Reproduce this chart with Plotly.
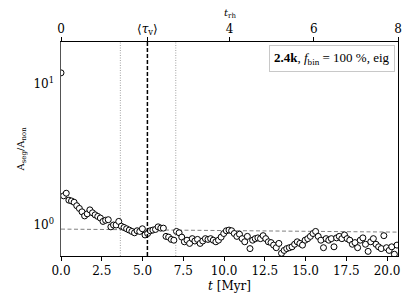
import plotly.graph_objects as go

# ---- data ----
SNAP_DT = 0.161  # Myr between snapshots
ratio = [
    12.0, 1.61, 1.68, 1.50, 1.48, 1.45, 1.37, 1.31, 1.24, 1.16, 1.20, 1.28, 1.22, 1.18, 1.15, 1.12,
    1.06, 1.08, 1.09, 0.97, 1.00, 1.00, 1.06, 0.98, 0.96, 0.94, 0.92, 0.90, 0.88, 0.91, 0.90, 0.94,
    0.85, 0.87, 0.91, 0.92, 0.93, 0.97, 0.95, 0.95, 0.83, 0.82, 0.79, 0.78, 0.90, 0.88, 0.82, 0.76,
    0.78, 0.74, 0.80, 0.77, 0.79, 0.74, 0.77, 0.80, 0.79, 0.80, 0.78, 0.76, 0.78, 0.82,
    0.87, 0.91, 0.92, 0.91, 0.87, 0.83, 0.86, 0.80, 0.76, 0.83, 0.68, 0.78, 0.80, 0.81, 0.80, 0.84,
    0.80, 0.76, 0.75, 0.72, 0.69, 0.74, 0.63, 0.66, 0.68, 0.69, 0.70, 0.73, 0.76, 0.74, 0.72, 0.78,
    0.80, 0.83, 0.87, 0.90,
    0.83, 0.78, 0.69, 0.80, 0.78, 0.80, 0.70, 0.81, 0.83, 0.80, 0.85, 0.80, 0.78, 0.73, 0.75, 0.69,
    0.78, 0.81, 0.73, 0.65, 0.76, 0.80, 0.73, 0.70, 0.68, 0.84, 0.69, 0.66, 0.70, 0.62, 0.72,
]
times = [i * SNAP_DT for i in range(len(ratio))]

tau_v = 5.3            # <tau_v> [Myr]
tau_v_lo = 3.64        # dotted bounds
tau_v_hi = 7.04
mean_line_t = [0.0, 20.67]
mean_line_v = [0.935, 0.89]

T_MAX = 20.67          # Myr, right edge
TRH_MAX = 8.0          # t_rh at right edge
x_ticks = [0.0, 2.5, 5.0, 7.5, 10.0, 12.5, 15.0, 17.5, 20.0]
top_ticks = [0, 4, 6, 8]
top_labels = ["0", "4", "6", "8"]

FONT = "DejaVu Serif"

fig = go.Figure()

fig.add_trace(go.Scatter(
    x=mean_line_t, y=mean_line_v, mode="lines",
    line=dict(color="#808080", width=1, dash="4px,2.5px"),
    showlegend=False, hoverinfo="skip"))

fig.add_trace(go.Scatter(
    x=times, y=ratio, mode="markers", cliponaxis=True,
    marker=dict(symbol="circle", size=6, color="white",
                line=dict(color="black", width=1)),
    showlegend=False))

# invisible helper so the top (t_rh) axis is drawn
fig.add_trace(go.Scatter(
    x=[0, TRH_MAX], y=[1, 1], xaxis="x2", yaxis="y", mode="markers",
    marker=dict(opacity=0), showlegend=False, hoverinfo="skip"))

# vertical reference lines
for xv in (tau_v_lo, tau_v_hi):
    fig.add_shape(type="line", xref="x", yref="paper", x0=xv, x1=xv, y0=0, y1=1,
                  line=dict(color="#8a8a8a", width=0.8, dash="1px,1.5px"), layer="below")
fig.add_shape(type="line", xref="x", yref="paper", x0=tau_v, x1=tau_v, y0=0, y1=1,
              line=dict(color="black", width=1.5, dash="4px,2px"))
# mask marker overflow left of the frame
fig.add_shape(type="rect", xref="paper", yref="paper", x0=-0.015, x1=-0.002, y0=0, y1=1,
              fillcolor="white", line=dict(width=0), layer="above")

tau_trh = tau_v * TRH_MAX / T_MAX

fig.update_layout(
    width=407, height=305,
    margin=dict(l=61, r=9, t=42, b=49, autoexpand=False),
    paper_bgcolor="white", plot_bgcolor="white",
    font=dict(family=FONT, size=12, color="black"),
    xaxis=dict(
        range=[0, T_MAX], tickvals=x_ticks, ticktext=[f"{v:.1f}" for v in x_ticks],
        showline=True, linecolor="black", linewidth=1.2, mirror=False,
        ticks="outside", ticklen=3.5, tickcolor="black", showgrid=False, zeroline=False,
        title=dict(text="<i>t</i> [Myr]", font=dict(size=12), standoff=4),
        tickfont=dict(size=12),
    ),
    xaxis2=dict(
        range=[0, TRH_MAX], overlaying="x", side="top", anchor="y",
        tickvals=top_ticks + [tau_trh],
        ticktext=top_labels + ["⟨<i>τ</i><sub>v</sub>⟩"],
        showline=True, linecolor="black", linewidth=1.2,
        ticks="outside", ticklen=3.5, tickcolor="black", showgrid=False, zeroline=False,
        tickfont=dict(size=12),
    ),
    yaxis=dict(
        type="log", range=[-0.22, 1.298],
        tickvals=[1, 10], ticktext=["10<sup>0</sup>", "10<sup>1</sup>"],
        minor=dict(tickvals=[0.6, 0.7, 0.8, 0.9, 2, 3, 4, 5, 6, 7, 8, 9, 20],
                   ticks="outside", ticklen=2, tickcolor="black", showgrid=False),
        showline=True, linecolor="black", linewidth=1.2, mirror=True,
        ticks="outside", ticklen=3.5, tickcolor="black", showgrid=False, zeroline=False,
        tickfont=dict(size=12),
    ),
    annotations=[
        dict(text="A<sub>seg</sub>/A<sub>non</sub>", xref="paper", yref="paper",
             x=-0.12, y=0.5, textangle=-90, showarrow=False, font=dict(size=10),
             xanchor="center", yanchor="middle"),
        dict(text="<i>t</i><sub>rh</sub>", xref="paper", yref="paper",
             x=0.5, y=1.0, yshift=20, showarrow=False, font=dict(size=10),
             xanchor="center", yanchor="bottom"),
        dict(text="<b>2.4k</b>, <i>f</i><sub>bin</sub> = 100 %, eig", xref="paper", yref="paper",
             x=0.991, y=0.986, xanchor="right", yanchor="top", showarrow=False,
             font=dict(family="Liberation Serif", size=13), bgcolor="white",
             bordercolor="#c8c8c8", borderwidth=1, borderpad=4),
    ],
)

fig.write_html("out.html",
               config={"displayModeBar": False},
               post_script="document.body.style.margin='0px';"
                           "document.documentElement.style.overflow='hidden';")
